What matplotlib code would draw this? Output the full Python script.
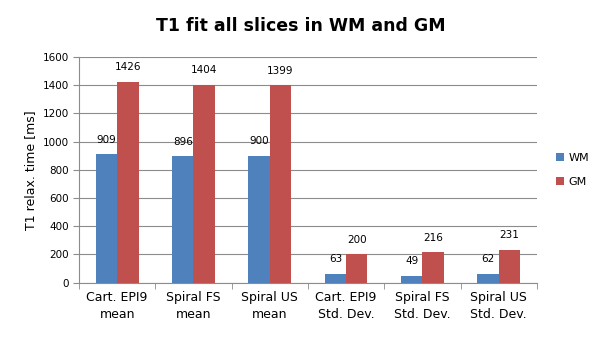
import numpy as np
import matplotlib.pyplot as plt

categories = ['Cart. EPI9\nmean', 'Spiral FS\nmean', 'Spiral US\nmean',
              'Cart. EPI9\nStd. Dev.', 'Spiral FS\nStd. Dev.', 'Spiral US\nStd. Dev.']
wm = [909, 896, 900, 63, 49, 62]
gm = [1426, 1404, 1399, 200, 216, 231]

fig = plt.figure(figsize=(6.06, 3.42), dpi=100)
ax = fig.add_axes([0.1304, 0.1734, 0.7556, 0.66])

x = np.arange(len(categories))
w = 0.28
b1 = ax.bar(x - w/2, wm, w, color='#4F81BD', label='WM', zorder=3)
b2 = ax.bar(x + w/2, gm, w, color='#C0504D', label='GM', zorder=3)

for bars, vals in [(b1, wm), (b2, gm)]:
    for r, v in zip(bars, vals):
        ax.annotate(str(v), (r.get_x() + r.get_width()/2, v), xytext=(0, 7),
                    textcoords='offset points', ha='center', va='bottom', fontsize=7.5)

ax.set_xlim(-0.5, len(categories) - 0.5)
ax.set_ylim(0, 1600)
ax.set_yticks(range(0, 1601, 200))
ax.yaxis.grid(True, color='#8c8c8c', linewidth=0.8, zorder=0)
ax.set_xticks(x)
ax.set_xticklabels(categories, fontsize=9, linespacing=1.4)
ax.set_xticks(np.arange(-0.5, len(categories)), minor=True)
ax.tick_params(axis='x', which='major', length=0, pad=6)
ax.tick_params(axis='x', which='minor', length=4, color='#8c8c8c')
ax.tick_params(axis='y', labelsize=7.5, length=4, color='#8c8c8c')
for s in ['top', 'right']:
    ax.spines[s].set_visible(False)
for s in ['left', 'bottom']:
    ax.spines[s].set_color('#8c8c8c')
ax.set_ylabel('T1 relax. time [ms]', fontsize=9)
fig.suptitle('T1 fit all slices in WM and GM', x=0.497, y=0.925,
             fontsize=12.5, fontweight='bold', va='center')

ax.legend(loc='center left', bbox_to_anchor=(1.02, 0.5), frameon=False,
          fontsize=8, handlelength=0.7, handleheight=0.7, labelspacing=1.3,
          handletextpad=0.4)

fig.savefig('out.png', dpi=100)
